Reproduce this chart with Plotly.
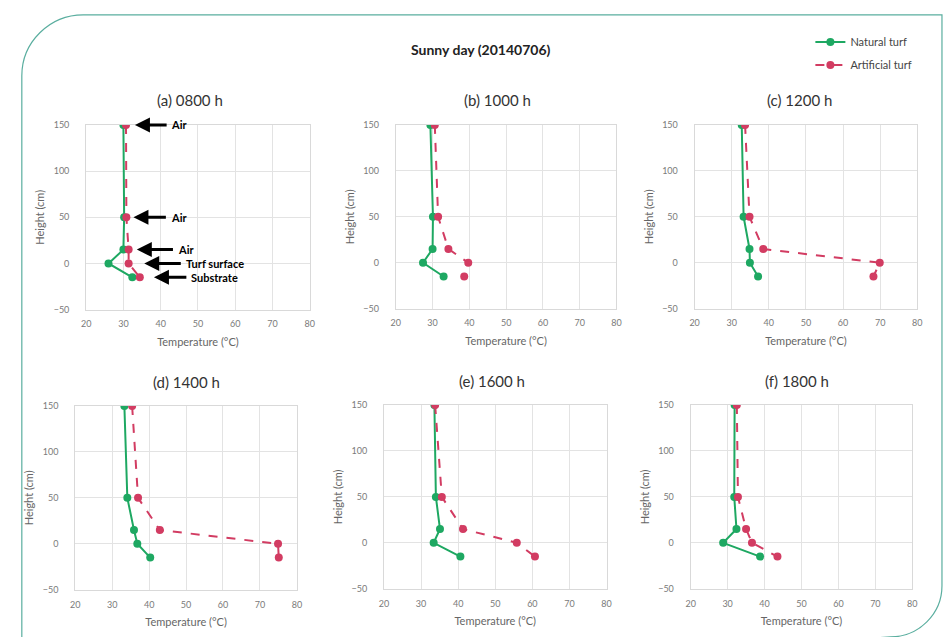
import plotly.graph_objects as go

W, H = 944, 637
FONT = "Lato"

heights = [150, 50, 15, 0, -15]
panel_titles = ["(a) 0800 h", "(b) 1000 h", "(c) 1200 h", "(d) 1400 h", "(e) 1600 h", "(f) 1800 h"]
natural_turf = [
    [30.0, 30.2, 30.0, 26.0, 32.4],
    [29.4, 30.1, 30.0, 27.4, 33.0],
    [32.7, 33.2, 34.8, 34.9, 37.1],
    [33.3, 34.1, 35.9, 36.8, 40.3],
    [33.6, 34.0, 35.1, 33.4, 40.6],
    [31.9, 31.8, 32.4, 28.8, 38.8],
]
artificial_turf = [
    [30.7, 30.8, 31.4, 31.4, 34.4],
    [30.6, 31.5, 34.3, 39.7, 38.6],
    [33.6, 34.8, 38.5, 69.9, 68.2],
    [35.4, 37.0, 42.9, 74.9, 75.1],
    [33.8, 35.6, 41.3, 55.8, 60.7],
    [32.5, 32.8, 35.0, 36.6, 43.5],
]
x_ticks = [20, 30, 40, 50, 60, 70, 80]
y_ticks = [-50, 0, 50, 100, 150]
label_names = ["Air", "Air", "Air", "Turf surface", "Substrate"]
arrow_heads = [33.1, 32.7, 33.6, 35.6, 38.2]
arrow_tails = [42.0, 41.8, 43.7, 45.8, 47.3]
label_x = [42.6, 42.4, 44.3, 46.4, 47.9]

GREEN = "#1ea862"
RED = "#d23c62"

# panel boxes in pixels: (left, right, top, bottom)
boxes = [
    (82, 308, 121, 309), (395, 618, 121, 308), (697, 922, 121, 308),
    (71, 295, 407, 594), (383, 608, 406, 593), (693, 917, 406, 593),
]
title_pos = [(187, 96), (498, 96), (803, 96), (183, 383), (492, 382), (800, 382)]

def px(x):
    return x / W

def py(y):
    return 1 - y / H

fig = go.Figure()
layout = dict(
    width=W, height=H, margin=dict(l=0, r=0, t=0, b=0),
    paper_bgcolor="white", plot_bgcolor="white",
    font=dict(family=FONT, color="#555"),
    showlegend=True,
    legend=dict(x=px(814), y=py(22), xanchor="left", yanchor="top",
                font=dict(size=11, color="#444", family=FONT),
                bgcolor="rgba(0,0,0,0)", itemwidth=30, tracegroupgap=4,
                traceorder="grouped"),
)
annotations = []
for i in range(6):
    ax = "" if i == 0 else str(i + 1)
    l, r, t, b = boxes[i]
    fig.add_trace(go.Scatter(
        x=natural_turf[i], y=heights, mode="lines+markers", name="Natural turf",
        legendgroup="n", showlegend=(i == 0),
        line=dict(color=GREEN, width=2), marker=dict(size=8, color=GREEN),
        xaxis="x" + ax, yaxis="y" + ax))
    fig.add_trace(go.Scatter(
        x=artificial_turf[i], y=heights, mode="lines+markers", name="Artificial turf",
        legendgroup="a", showlegend=(i == 0),
        line=dict(color=RED, width=2, dash="dash"), marker=dict(size=8, color=RED),
        xaxis="x" + ax, yaxis="y" + ax))
    axis_common = dict(showgrid=True, gridcolor="#e3e3e3", gridwidth=1,
                       showline=True, linecolor="#d9d9d9", linewidth=1, mirror=True,
                       zeroline=False, ticks="",
                       tickfont=dict(size=9, color="#7a7a7a", family=FONT))
    layout["xaxis" + ax] = dict(
        axis_common, domain=[px(l), px(r)], range=[20, 80], tickvals=x_ticks,
        anchor="y" + ax, ticklabelstandoff=6,
        title=dict(text="Temperature (°C)", font=dict(size=11, color="#666"), standoff=9))
    layout["yaxis" + ax] = dict(
        axis_common, domain=[py(b), py(t)], range=[-50, 150], tickvals=y_ticks,
        anchor="x" + ax, ticklabelstandoff=14,
        title=dict(text="Height (cm)", font=dict(size=11, color="#666"), standoff=6))
    tx, ty = title_pos[i]
    annotations.append(dict(text=panel_titles[i], x=px(tx), y=py(ty), xref="paper", yref="paper",
                            xanchor="center", yanchor="middle",
                            showarrow=False, font=dict(size=15, color="#333", family=FONT)))

for k in range(5):
    annotations.append(dict(x=arrow_heads[k], y=heights[k], ax=arrow_tails[k], ay=heights[k],
                            xref="x", yref="y", axref="x", ayref="y", text="",
                            showarrow=True, arrowhead=2, arrowsize=1.0, arrowwidth=3,
                            arrowcolor="black", standoff=0, startstandoff=0))
    annotations.append(dict(x=label_x[k], y=heights[k], xref="x", yref="y", text="<b>%s</b>" % label_names[k],
                            xanchor="left", yanchor="middle", showarrow=False, borderpad=0,
                            font=dict(size=11, color="black", family=FONT)))

annotations.append(dict(text="<b>Sunny day (20140706)</b>", x=px(481), y=py(44), xref="paper", yref="paper",
                        xanchor="center", yanchor="middle",
                        showarrow=False, font=dict(size=14, color="#222", family=FONT)))
layout["annotations"] = annotations

# rounded frame
def P(x, y):
    return "%.5f,%.5f" % (px(x), py(y))

R1 = 62
R2 = 52
path = ("M " + P(17, 700) + " L " + P(17, 9 + R1) +
        " C " + P(17, 9 + R1 * 0.45) + " " + P(17 + R1 * 0.45, 9) + " " + P(17 + R1, 9) +
        " L " + P(947, 9) + " L " + P(947, 642 - R2) +
        " C " + P(947, 642 - R2 * 0.45) + " " + P(947 - R2 * 0.45, 642) + " " + P(947 - R2, 642) +
        " L " + P(17, 700) + " Z")
layout["shapes"] = [dict(type="path", path=path, xref="paper", yref="paper",
                         line=dict(color="#5aae9f", width=1.2), fillcolor="rgba(0,0,0,0)", layer="below")]

fig.update_layout(**layout)
fig.write_html("out.html", config={"displayModeBar": False},
               post_script="document.body.style.margin='0';document.body.style.overflow='hidden';")
